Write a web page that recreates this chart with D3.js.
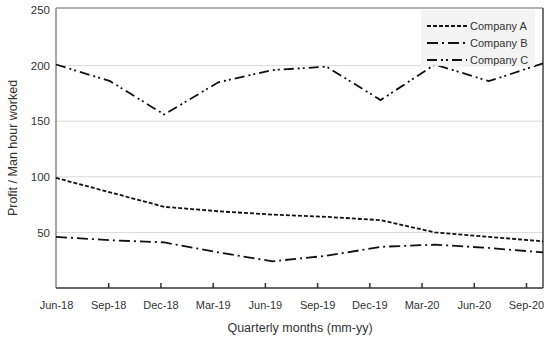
<!DOCTYPE html>
<html>
<head>
<meta charset="utf-8">
<script src="https://cdn.jsdelivr.net/npm/d3@7"></script>
<style>
  body { margin: 0; background: #fff; }
  text { font-family: "Liberation Sans", Arial, sans-serif; }
</style>
</head>
<body>
<div id="chart"></div>
<script>
// dati
const months = ['Jun-18', 'Sep-18', 'Dec-18', 'Mar-19', 'Jun-19', 'Sep-19', 'Dec-19', 'Mar-20', 'Jun-20', 'Sep-20'];
const companyA = [99, 86, 73, 69, 66, 64, 61, 50, 46, 42];
const companyB = [46, 43, 41, 32, 24, 29, 37, 39, 36, 32];
const companyC = [201, 186, 156, 185, 196, 199, 169, 201, 186, 202];
const yTicks = [50, 100, 150, 200, 250];

const series = [
  { name: 'Company A', values: companyA, dash: '4,2' },
  { name: 'Company B', values: companyB, dash: '11,4,2,4' },
  { name: 'Company C', values: companyC, dash: '10,4,2,3,2,4' }
];

const width = 550, height = 340;
const plotLeft = 56, plotRight = 543, plotTop = 8, plotBottom = 288;

const svg = d3.select('#chart').append('svg')
  .attr('width', width)
  .attr('height', height);

const y = d3.scaleLinear().domain([0, 250]).range([plotBottom, plotTop + 2]);
// le etichette dei tick non coincidono con i punti dei dati nell'originale
const xTick = d3.scalePoint().domain(months).range([plotLeft, 526]);
const xData = d3.scalePoint().domain(months).range([plotLeft, plotRight]);

// griglia orizzontale
svg.append('g')
  .selectAll('line')
  .data(yTicks.filter(d => d < 250))
  .enter().append('line')
  .attr('x1', plotLeft).attr('x2', plotRight)
  .attr('y1', d => y(d)).attr('y2', d => y(d))
  .attr('stroke', '#d9d9d9')
  .attr('stroke-width', 1);

// cornice
svg.append('line').attr('x1', plotLeft).attr('x2', plotRight).attr('y1', plotTop).attr('y2', plotTop)
  .attr('stroke', '#999').attr('stroke-width', 1.5);
svg.append('line').attr('x1', plotRight).attr('x2', plotRight).attr('y1', plotTop).attr('y2', plotBottom)
  .attr('stroke', '#444').attr('stroke-width', 1.5);

// asse y
const yAxis = svg.append('g')
  .attr('transform', `translate(${plotLeft},0)`)
  .call(d3.axisLeft(y).tickValues(yTicks).tickSize(0).tickPadding(6));
yAxis.select('.domain').attr('stroke', '#888').attr('stroke-width', 1.5)
  .attr('d', `M0,${plotTop}V${plotBottom}`);
yAxis.selectAll('text').attr('font-size', 11.5).attr('fill', '#333')
  .attr('font-family', '"Liberation Sans", Arial, sans-serif');

// asse x
const xAxis = svg.append('g')
  .attr('transform', `translate(0,${plotBottom})`)
  .call(d3.axisBottom(xTick).tickSizeInner(-5).tickSizeOuter(0).tickPadding(13));
xAxis.select('.domain').attr('stroke', '#333').attr('stroke-width', 1.5)
  .attr('d', `M${plotLeft},0H${plotRight}`);
xAxis.selectAll('.tick line').attr('stroke', '#333').attr('stroke-width', 1.5);
xAxis.selectAll('.tick').filter(d => d === months[0]).select('line').remove();
xAxis.selectAll('text').attr('font-size', 11).attr('fill', '#333')
  .attr('font-family', '"Liberation Sans", Arial, sans-serif');

// linee dei dati
const line = d3.line()
  .x((d, i) => xData(months[i]))
  .y(d => y(d));

svg.append('g')
  .selectAll('path')
  .data(series)
  .enter().append('path')
  .attr('d', d => line(d.values))
  .attr('fill', 'none')
  .attr('stroke', '#111')
  .attr('stroke-width', 1.8)
  .attr('stroke-dasharray', d => d.dash);

// legenda
const legend = svg.append('g').attr('transform', 'translate(421,10)');
legend.append('rect')
  .attr('width', 114).attr('height', 56)
  .attr('fill', '#f2f2f2').attr('opacity', 0.85);
const items = legend.selectAll('.item')
  .data(series)
  .enter().append('g')
  .attr('class', 'item')
  .attr('transform', (d, i) => `translate(0,${16 + i * 17})`);
items.append('line')
  .attr('x1', 6).attr('x2', 46)
  .attr('stroke', '#111').attr('stroke-width', 1.8)
  .attr('stroke-dasharray', d => d.dash);
items.append('text')
  .attr('x', 49).attr('dy', '0.35em')
  .attr('font-size', 11).attr('fill', '#333')
  .text(d => d.name);

// titoli assi
svg.append('text')
  .attr('x', 300).attr('y', 332)
  .attr('text-anchor', 'middle')
  .attr('font-size', 12.5).attr('fill', '#333')
  .text('Quarterly months (mm-yy)');
svg.append('text')
  .attr('transform', 'translate(17,148) rotate(-90)')
  .attr('text-anchor', 'middle')
  .attr('font-size', 12.5).attr('fill', '#333')
  .text('Profit / Man hour worked');
</script>
</body>
</html>
